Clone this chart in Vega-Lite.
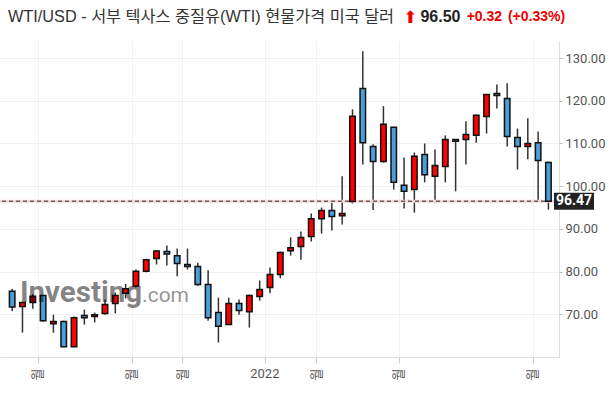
{
  "$schema": "https://vega.github.io/schema/vega-lite/v6.json",
  "width": 559,
  "height": 316,
  "autosize": {"type": "none"},
  "padding": {"left": 0, "top": 41, "right": 54, "bottom": 38},
  "background": "white",
  "config": {"view": {"stroke": null}},
  "data": {
    "values": [
      {"i": 0, "date": "2021-07-11", "open": 75.4, "high": 75.9, "low": 70.8, "close": 71.7},
      {"i": 1, "date": "2021-07-18", "open": 71.8, "high": 72.9, "low": 65.7, "close": 72.75},
      {"i": 2, "date": "2021-07-25", "open": 72.75, "high": 74.7, "low": 71.3, "close": 74.2},
      {"i": 3, "date": "2021-08-01", "open": 74.4, "high": 74.5, "low": 68.3, "close": 68.5},
      {"i": 4, "date": "2021-08-08", "open": 67.8, "high": 69.9, "low": 65.7, "close": 68.3},
      {"i": 5, "date": "2021-08-15", "open": 68.3, "high": 68.5, "low": 62.3, "close": 62.4},
      {"i": 6, "date": "2021-08-22", "open": 62.4, "high": 69.5, "low": 62.4, "close": 69.2},
      {"i": 7, "date": "2021-08-29", "open": 69.7, "high": 71.1, "low": 67.6, "close": 69.2},
      {"i": 8, "date": "2021-09-05", "open": 69.5, "high": 70.4, "low": 68.1, "close": 69.9},
      {"i": 9, "date": "2021-09-12", "open": 70.2, "high": 73.45, "low": 69.9, "close": 72.3},
      {"i": 10, "date": "2021-09-19", "open": 72.5, "high": 75.1, "low": 70.2, "close": 74.4},
      {"i": 11, "date": "2021-09-26", "open": 74.9, "high": 77.1, "low": 73.7, "close": 76.0},
      {"i": 12, "date": "2021-10-03", "open": 76.6, "high": 80.5, "low": 76.3, "close": 80.1},
      {"i": 13, "date": "2021-10-10", "open": 80.1, "high": 83.0, "low": 79.85, "close": 82.8},
      {"i": 14, "date": "2021-10-17", "open": 83.05, "high": 85.0, "low": 81.65, "close": 84.8},
      {"i": 15, "date": "2021-10-24", "open": 84.7, "high": 86.1, "low": 81.4, "close": 84.1},
      {"i": 16, "date": "2021-10-31", "open": 83.7, "high": 85.4, "low": 78.9, "close": 81.9},
      {"i": 17, "date": "2021-11-07", "open": 81.65, "high": 85.4, "low": 80.5, "close": 81.2},
      {"i": 18, "date": "2021-11-14", "open": 81.2, "high": 82.1, "low": 76.7, "close": 77.0},
      {"i": 19, "date": "2021-11-21", "open": 77.0, "high": 80.3, "low": 68.5, "close": 69.2},
      {"i": 20, "date": "2021-11-28", "open": 70.4, "high": 73.9, "low": 63.4, "close": 67.2},
      {"i": 21, "date": "2021-12-05", "open": 67.6, "high": 73.9, "low": 67.6, "close": 72.5},
      {"i": 22, "date": "2021-12-12", "open": 72.5, "high": 73.45, "low": 69.9, "close": 70.9},
      {"i": 23, "date": "2021-12-19", "open": 70.6, "high": 74.6, "low": 66.9, "close": 74.4},
      {"i": 24, "date": "2021-12-26", "open": 74.15, "high": 77.9, "low": 73.2, "close": 75.8},
      {"i": 25, "date": "2022-01-02", "open": 76.3, "high": 80.95, "low": 74.9, "close": 79.3},
      {"i": 26, "date": "2022-01-09", "open": 79.3, "high": 84.7, "low": 78.4, "close": 84.5},
      {"i": 27, "date": "2022-01-16", "open": 84.9, "high": 88.0, "low": 83.75, "close": 85.6},
      {"i": 28, "date": "2022-01-23", "open": 85.9, "high": 89.4, "low": 82.8, "close": 88.0},
      {"i": 29, "date": "2022-01-30", "open": 88.2, "high": 93.6, "low": 87.05, "close": 92.4},
      {"i": 30, "date": "2022-02-06", "open": 92.4, "high": 95.0, "low": 88.9, "close": 94.3},
      {"i": 31, "date": "2022-02-13", "open": 94.3, "high": 96.2, "low": 89.6, "close": 92.9},
      {"i": 32, "date": "2022-02-20", "open": 93.1, "high": 102.3, "low": 91.0, "close": 93.6},
      {"i": 33, "date": "2022-02-27", "open": 96.4, "high": 118.0, "low": 95.95, "close": 116.4},
      {"i": 34, "date": "2022-03-06", "open": 122.9, "high": 131.6, "low": 105.1, "close": 110.2},
      {"i": 35, "date": "2022-03-13", "open": 109.3, "high": 109.8, "low": 94.4, "close": 105.8},
      {"i": 36, "date": "2022-03-20", "open": 105.8, "high": 118.75, "low": 105.55, "close": 114.5},
      {"i": 37, "date": "2022-03-27", "open": 113.8, "high": 113.8, "low": 99.2, "close": 100.9},
      {"i": 38, "date": "2022-04-03", "open": 100.2, "high": 106.7, "low": 94.8, "close": 98.8},
      {"i": 39, "date": "2022-04-10", "open": 99.2, "high": 107.9, "low": 93.8, "close": 107.0},
      {"i": 40, "date": "2022-04-17", "open": 107.4, "high": 110.0, "low": 100.9, "close": 102.7},
      {"i": 41, "date": "2022-04-24", "open": 102.3, "high": 108.6, "low": 96.2, "close": 104.85},
      {"i": 42, "date": "2022-05-01", "open": 104.6, "high": 111.9, "low": 100.9, "close": 110.95},
      {"i": 43, "date": "2022-05-08", "open": 110.95, "high": 110.95, "low": 98.8, "close": 110.55},
      {"i": 44, "date": "2022-05-15", "open": 110.95, "high": 115.2, "low": 105.1, "close": 112.1},
      {"i": 45, "date": "2022-05-22", "open": 111.9, "high": 116.8, "low": 110.2, "close": 116.6},
      {"i": 46, "date": "2022-05-29", "open": 116.3, "high": 121.5, "low": 112.35, "close": 121.5},
      {"i": 47, "date": "2022-06-05", "open": 121.7, "high": 123.8, "low": 118.2, "close": 121.25},
      {"i": 48, "date": "2022-06-12", "open": 120.55, "high": 124.1, "low": 109.3, "close": 111.65},
      {"i": 49, "date": "2022-06-19", "open": 111.4, "high": 113.5, "low": 103.9, "close": 109.3},
      {"i": 50, "date": "2022-06-26", "open": 109.3, "high": 115.9, "low": 106.3, "close": 110.0},
      {"i": 51, "date": "2022-07-03", "open": 110.2, "high": 112.8, "low": 96.65, "close": 106.0},
      {"i": 52, "date": "2022-07-10", "open": 105.55, "high": 105.8, "low": 94.5, "close": 96.47}
    ]
  },
  "layer": [
    {
      "mark": {"type": "rule", "color": "#333333", "strokeWidth": 1.5},
      "encoding": {
        "x": {
          "field": "i", "type": "quantitative",
          "scale": {"domain": [-0.695, 52.54], "nice": false, "zero": false},
          "axis": {
            "title": null,
            "values": [2.5, 11.6, 16.5, 24.5, 29.5, 37.5, 50.5],
            "labelExpr": "datum.value == 24.5 ? '' : '월'",
            "grid": true, "gridColor": "#f2f2f2",
            "domainColor": "#dddddd", "tickColor": "#cccccc", "tickSize": 6,
            "labelPadding": 11, "labelFont": "Roboto, Noto Sans CJK KR", "labelFontSize": 13,
            "labelColor": "#555555", "labelAngle": 270, "labelAlign": "center", "labelBaseline": "middle",
            "labelFlush": false, "labelOverlap": false
          }
        },
        "y": {
          "field": "low", "type": "quantitative",
          "scale": {"domain": [60, 134], "nice": false, "zero": false},
          "axis": {
            "orient": "right", "title": null,
            "values": [70, 80, 90, 100, 110, 120, 130], "format": ".2f",
            "grid": true, "gridColor": "#f0f0f0",
            "domainColor": "#dddddd", "tickColor": "#bbbbbb", "tickSize": 3,
            "labelPadding": 3, "labelFont": "Roboto", "labelFontSize": 13, "labelColor": "#555555"
          }
        },
        "y2": {"field": "high"}
      }
    },
    {
      "data": {"values": [{"v": 96.47}]},
      "mark": {"type": "rule", "color": "#f9d2d2", "strokeWidth": 3},
      "encoding": {"y": {"field": "v", "type": "quantitative"}}
    },
    {
      "data": {"values": [{"v": 96.47}]},
      "mark": {"type": "rule", "color": "#666666", "strokeWidth": 1.5, "strokeDash": [4, 3]},
      "encoding": {"y": {"field": "v", "type": "quantitative"}}
    },
    {
      "mark": {"type": "bar", "size": 5.5, "stroke": "#111111", "strokeWidth": 1.5},
      "encoding": {
        "x": {"field": "i", "type": "quantitative"},
        "y": {"field": "open", "type": "quantitative"},
        "y2": {"field": "close"},
        "fill": {"condition": {"test": "datum.close > datum.open", "value": "#ff0000"}, "value": "#4a9ed9"}
      }
    },
    {
      "data": {"values": [{"t": "Investing"}]},
      "mark": {"type": "text", "font": "Roboto", "fontWeight": "bold", "fontSize": 29.5, "align": "left", "baseline": "alphabetic", "color": "#000000", "opacity": 0.48},
      "encoding": {
        "x": {"datum": 0.75, "type": "quantitative"},
        "y": {"datum": 72.88, "type": "quantitative"},
        "text": {"field": "t"}
      }
    },
    {
      "data": {"values": [{"t": ".com"}]},
      "mark": {"type": "text", "font": "Roboto", "fontWeight": "normal", "fontSize": 21, "align": "left", "baseline": "alphabetic", "color": "#000000", "opacity": 0.42},
      "encoding": {
        "x": {"datum": 12.6, "type": "quantitative"},
        "y": {"datum": 72.88, "type": "quantitative"},
        "text": {"field": "t"}
      }
    },
    {
      "data": {"values": [{"t": "2022"}]},
      "mark": {"type": "text", "font": "Roboto", "fontSize": 13, "align": "center", "baseline": "middle", "color": "#555555"},
      "encoding": {
        "x": {"datum": 24.5, "type": "quantitative"},
        "y": {"datum": 56.0, "type": "quantitative"},
        "text": {"field": "t"}
      }
    },
    {
      "data": {"values": [{"v": 96.47}]},
      "mark": {"type": "rect", "color": "#222222", "x2Offset": 40, "yOffset": -8.5, "y2Offset": 8.5},
      "encoding": {
        "x": {"datum": 52.54, "type": "quantitative"},
        "x2": {"datum": 52.54},
        "y": {"field": "v", "type": "quantitative"},
        "y2": {"field": "v"}
      }
    },
    {
      "data": {"values": [{"v": 96.47}]},
      "mark": {"type": "text", "align": "center", "baseline": "middle", "dx": 20, "font": "Roboto", "fontWeight": "bold", "fontSize": 14, "color": "#ffffff"},
      "encoding": {
        "x": {"datum": 52.54, "type": "quantitative"},
        "y": {"field": "v", "type": "quantitative"},
        "text": {"field": "v", "type": "quantitative", "format": ".2f"}
      }
    },
    {
      "data": {"values": [{"t": "WTI/USD - 서부 텍사스 중질유(WTI) 현물가격 미국 달러"}]},
      "mark": {"type": "text", "align": "left", "baseline": "middle", "font": "Liberation Sans, Noto Sans CJK KR", "fontSize": 16.3, "color": "#333333"},
      "encoding": {
        "x": {"datum": -0.41, "type": "quantitative"},
        "y": {"datum": 139.6, "type": "quantitative"},
        "text": {"field": "t"}
      }
    },
    {
      "data": {"values": [{"t": "⬆"}]},
      "mark": {"type": "text", "align": "center", "baseline": "middle", "font": "DejaVu Sans", "fontSize": 17, "color": "#ee0000"},
      "encoding": {
        "x": {"datum": 38.61, "type": "quantitative"},
        "y": {"datum": 139.4, "type": "quantitative"},
        "text": {"field": "t"}
      }
    },
    {
      "data": {"values": [{"t": "96.50"}]},
      "mark": {"type": "text", "align": "left", "baseline": "middle", "font": "Liberation Sans", "fontWeight": "bold", "fontSize": 16, "color": "#222222"},
      "encoding": {
        "x": {"datum": 39.59, "type": "quantitative"},
        "y": {"datum": 139.6, "type": "quantitative"},
        "text": {"field": "t"}
      }
    },
    {
      "data": {"values": [{"t": "+0.32"}]},
      "mark": {"type": "text", "align": "left", "baseline": "middle", "font": "Liberation Sans", "fontWeight": "bold", "fontSize": 14, "color": "#ee0000"},
      "encoding": {
        "x": {"datum": 44.07, "type": "quantitative"},
        "y": {"datum": 139.6, "type": "quantitative"},
        "text": {"field": "t"}
      }
    },
    {
      "data": {"values": [{"t": "(+0.33%)"}]},
      "mark": {"type": "text", "align": "left", "baseline": "middle", "font": "Liberation Sans", "fontWeight": "bold", "fontSize": 14, "color": "#ee0000"},
      "encoding": {
        "x": {"datum": 48.07, "type": "quantitative"},
        "y": {"datum": 139.6, "type": "quantitative"},
        "text": {"field": "t"}
      }
    }
  ]
}
